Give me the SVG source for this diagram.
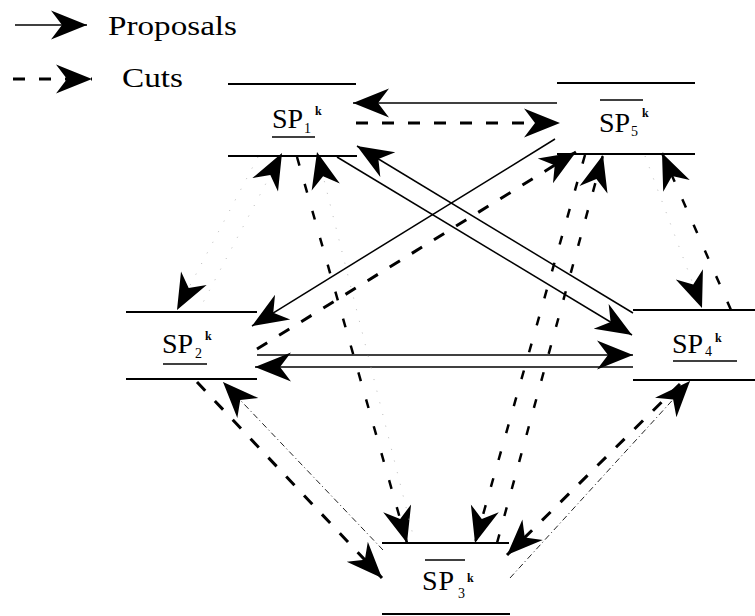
<svg xmlns="http://www.w3.org/2000/svg" width="755" height="616" viewBox="0 0 755 616">
<style>
.bar{stroke:#000;stroke-width:2;fill:none}
.lbl{font-family:"Liberation Serif",serif;font-size:28px;fill:#000}
.sub{font-family:"Liberation Serif",serif;font-size:14px;fill:#000}
.sup{font-family:"Liberation Serif",serif;font-size:12px;font-weight:bold;fill:#000}
.leg{font-family:"Liberation Serif",serif;font-size:27px;fill:#000}
.ul{stroke:#000;stroke-width:1.6}
.solid{stroke:#000;stroke-width:1.5;fill:none;marker-end:url(#ah)}
.dash{stroke:#000;stroke-width:3;stroke-dasharray:12 14;fill:none;marker-end:url(#ah)}
.sq{stroke:#000;stroke-width:2.5;stroke-dasharray:9 19;fill:none;marker-end:url(#ah)}
.thin{stroke:#222;stroke-width:1;stroke-dasharray:6 3 1 3;fill:none;marker-end:url(#ah)}
.faint{stroke:#bbb;stroke-width:1;stroke-dasharray:1 11;fill:none;marker-end:url(#ah)}
</style>
<defs>
<marker id="ah" viewBox="-38 -16 40 32" refX="0" refY="0" markerWidth="40" markerHeight="32" markerUnits="userSpaceOnUse" orient="auto">
<path d="M0,0 L-36,-14.5 L-25,0 L-36,14.5 Z" fill="#000"/>
</marker>
</defs>
<rect width="755" height="616" fill="#fff"/>

<g id="legend">
<line x1="15" y1="25" x2="87" y2="25" class="solid"/>
<text x="108" y="35" class="leg" textLength="129" lengthAdjust="spacingAndGlyphs">Proposals</text>
<line x1="13" y1="79" x2="92" y2="79" class="dash"/>
<text x="122" y="87" class="leg" textLength="61" lengthAdjust="spacingAndGlyphs">Cuts</text>
</g>

<g id="connectors">
<line id="c1" x1="557" y1="103" x2="353" y2="103" class="solid"/>
<line id="c2" x1="356" y1="123" x2="560" y2="123" class="dash"/>
<line id="c3" x1="337" y1="157" x2="632" y2="335" class="solid"/>
<line id="c4" x1="633" y1="313" x2="357" y2="146" class="solid"/>
<line id="c5" x1="555" y1="139" x2="252" y2="326" class="solid"/>
<line id="c6" x1="257" y1="349" x2="576" y2="152" class="dash"/>
<line id="c7" x1="257" y1="355" x2="633" y2="355" class="solid"/>
<line id="c8" x1="633" y1="367" x2="255" y2="367" class="solid"/>
<line id="c9" x1="197" y1="382" x2="382" y2="578" class="dash"/>
<line id="c10" x1="383" y1="550" x2="223" y2="382" class="thin"/>
<line id="c11" x1="297" y1="157" x2="407" y2="543" class="sq"/>
<line id="c12" x1="415" y1="543" x2="317" y2="152" class="faint"/>
<line id="c13" x1="585" y1="155" x2="475" y2="543" class="sq"/>
<line id="c14" x1="497" y1="543" x2="603" y2="155" class="sq"/>
<line id="c15" x1="731" y1="310" x2="662" y2="153" class="sq"/>
<line id="c16" x1="645" y1="156" x2="702" y2="308" class="faint"/>
<line id="c17" x1="680" y1="384" x2="507" y2="555" class="dash"/>
<line id="c18" x1="510" y1="578" x2="690" y2="381" class="thin"/>
<line id="c19" x1="258" y1="157" x2="177" y2="310" class="faint"/>
<line id="c20" x1="198" y1="312" x2="282" y2="153" class="faint"/>
</g>

<g id="SP1">
<line x1="228" y1="84" x2="356" y2="84" class="bar"/>
<line x1="228" y1="156" x2="357" y2="156" class="bar"/>
<text x="272" y="128" class="lbl">SP</text>
<text x="304" y="133" class="sub">1</text>
<text x="315" y="115" class="sup">k</text>
<line x1="272" y1="137" x2="315" y2="137" class="ul"/>
</g>

<g id="SP5">
<line x1="557" y1="83" x2="695" y2="83" class="bar"/>
<line x1="557" y1="154" x2="695" y2="154" class="bar"/>
<text x="599" y="132" class="lbl">SP</text>
<text x="631" y="136" class="sub">5</text>
<text x="642" y="117" class="sup">k</text>
<line x1="600" y1="100" x2="643" y2="100" class="ul"/>
</g>

<g id="SP2">
<line x1="126" y1="312" x2="257" y2="312" class="bar"/>
<line x1="126" y1="379" x2="257" y2="379" class="bar"/>
<text x="162" y="353" class="lbl">SP</text>
<text x="195" y="358" class="sub">2</text>
<text x="205" y="340" class="sup">k</text>
<line x1="163" y1="364" x2="207" y2="364" class="ul"/>
</g>

<g id="SP4">
<line x1="633" y1="310" x2="755" y2="310" class="bar"/>
<line x1="633" y1="380" x2="755" y2="380" class="bar"/>
<text x="672" y="353" class="lbl">SP</text>
<text x="705" y="356" class="sub">4</text>
<text x="715" y="342" class="sup">k</text>
<line x1="673" y1="361" x2="737" y2="361" class="ul"/>
</g>

<g id="SP3">
<line x1="382" y1="543" x2="509" y2="543" class="bar"/>
<line x1="382" y1="614" x2="510" y2="614" class="bar"/>
<text x="422" y="590" class="lbl" letter-spacing="1">SP</text>
<text x="458" y="598" class="sub">3</text>
<text x="467" y="582" class="sup">k</text>
<line x1="425" y1="560" x2="465" y2="560" class="ul"/>
</g>
</svg>
